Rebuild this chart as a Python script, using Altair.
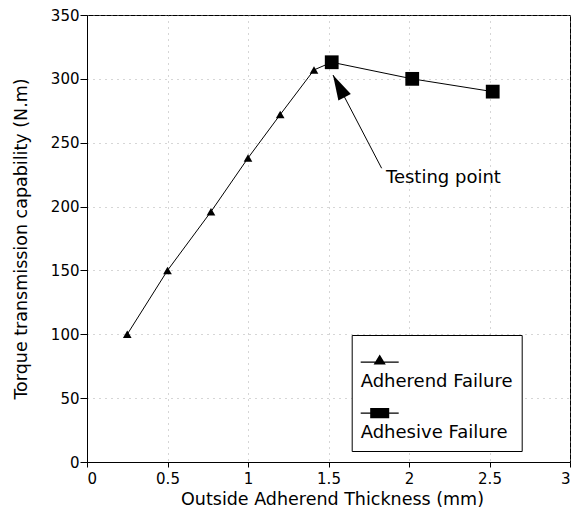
import altair as alt
import pandas as pd

# data
thickness = [0.25, 0.5, 0.77, 1.0, 1.2, 1.41, 1.52, 2.02, 2.52]
torque = [100, 150, 196, 238, 272, 307, 313, 300, 290]
failure = ["Adherend Failure"] * 6 + ["Adhesive Failure"] * 3
series_names = ["Adherend Failure", "Adhesive Failure"]

x_ticks = [0, 0.5, 1, 1.5, 2, 2.5, 3]
y_ticks = [0, 50, 100, 150, 200, 250, 300, 350]

# annotation
note_text = ["Testing point"]
note_x = [1.857]
note_y = [218.7]
arrow_tail_x = [1.83]
arrow_tail_y = [230.0]
arrow_tip_x = [1.528]
arrow_tip_y = [303.0]

df = pd.DataFrame({"x": thickness, "y": torque, "series": failure})
note_df = pd.DataFrame({"x": note_x, "y": note_y, "t": note_text})
arrow_df = pd.DataFrame({"x": arrow_tail_x, "y": arrow_tail_y,
                         "x2": arrow_tip_x, "y2": arrow_tip_y})

FONT = "DejaVu Sans"

xs = alt.Scale(domain=[0, 3], nice=False)
ys = alt.Scale(domain=[0, 350], nice=False)

x_axis = alt.Axis(values=x_ticks, format="~g", title="Outside Adherend Thickness (mm)",
                  tickSize=5, labelPadding=4, titleX=245, titleY=42,
                  titleBaseline="alphabetic", grid=True)
y_axis = alt.Axis(values=y_ticks, title="Torque transmission capability (N.m)",
                  tickSize=7, labelPadding=1, titleX=-61, titleY=223.5,
                  titleBaseline="alphabetic", grid=True)

base = alt.Chart(df)

line = base.mark_line(color="black", strokeWidth=1).encode(
    x=alt.X("x:Q", scale=xs, axis=x_axis),
    y=alt.Y("y:Q", scale=ys, axis=y_axis),
    order="x:Q",
)

tri = base.transform_filter(alt.datum.series == "Adherend Failure").mark_point(
    shape="triangle-up", filled=True, color="black", size=75, opacity=1
).encode(x=alt.X("x:Q", scale=xs), y=alt.Y("y:Q", scale=ys))

sq = base.transform_filter(alt.datum.series == "Adhesive Failure").mark_point(
    shape="square", filled=True, color="black", size=190, opacity=1
).encode(x=alt.X("x:Q", scale=xs), y=alt.Y("y:Q", scale=ys))

# legend symbols: short line with marker, drawn as filled paths
TRI_PATH = "M-1,-0.6H1V-0.54H-1ZM0,-0.97L0.32,-0.45H-0.32Z"
SQ_PATH = "M-1,-0.6H1V-0.54H-1ZM-0.5,-0.84H0.5V-0.3H-0.5Z"

legend_layer = base.transform_filter("false").mark_point(
    filled=True, color="black", size=1444, opacity=1
).encode(
    x=alt.X("x:Q", scale=xs),
    y=alt.Y("y:Q", scale=ys),
    shape=alt.Shape(
        "series:N",
        scale=alt.Scale(domain=series_names, range=[TRI_PATH, SQ_PATH]),
        legend=alt.Legend(
            title=" ", titleFontSize=9, titlePadding=1,
            orient="none", legendX=264.7, legendY=320,
            padding=9, strokeColor="black", fillColor="white",
            labelFont=FONT, labelFontSize=18, labelColor="black",
            labelBaseline="top", labelOffset={"expr": "-38"}, labelLimit=400,
            symbolSize=1444, symbolFillColor="black", symbolStrokeColor="black",
            symbolStrokeWidth=0, symbolOpacity=1, rowPadding=14,
        ),
    ),
)

note = alt.Chart(note_df).mark_text(
    font=FONT, fontSize=18, align="left", baseline="alphabetic", color="black"
).encode(x=alt.X("x:Q", scale=xs), y=alt.Y("y:Q", scale=ys), text="t:N")

arrow_line = alt.Chart(arrow_df).mark_rule(color="black", strokeWidth=1).encode(
    x=alt.X("x:Q", scale=xs), y=alt.Y("y:Q", scale=ys), x2="x2:Q", y2="y2:Q"
)

arrow_head = alt.Chart(arrow_df).mark_point(
    shape="M0,0L0.28,1L-0.28,1Z", filled=True, color="black", size=2500,
    angle=332.4, opacity=1
).encode(x=alt.X("x2:Q", scale=xs), y=alt.Y("y2:Q", scale=ys))

chart = alt.layer(line, tri, sq, legend_layer, arrow_line, arrow_head, note).properties(
    width=483, height=447,
    background="white",
    autosize=alt.AutoSizeParams(type="none"),
    padding={"left": 87, "top": 15, "right": 4, "bottom": 55},
).configure_view(
    stroke="black", strokeWidth=1
).configure_axis(
    labelFont=FONT, labelFontSize=15, labelColor="black",
    titleFont=FONT, titleFontSize=17.5, titleFontWeight="normal", titleColor="black",
    domainColor="black", tickColor="black", gridColor="#9a9a9a",
    gridDash=[1, 5], gridWidth=1, gridOpacity=0.8,
)

chart.save("out.html", embed_options={"renderer": "svg", "actions": False})
